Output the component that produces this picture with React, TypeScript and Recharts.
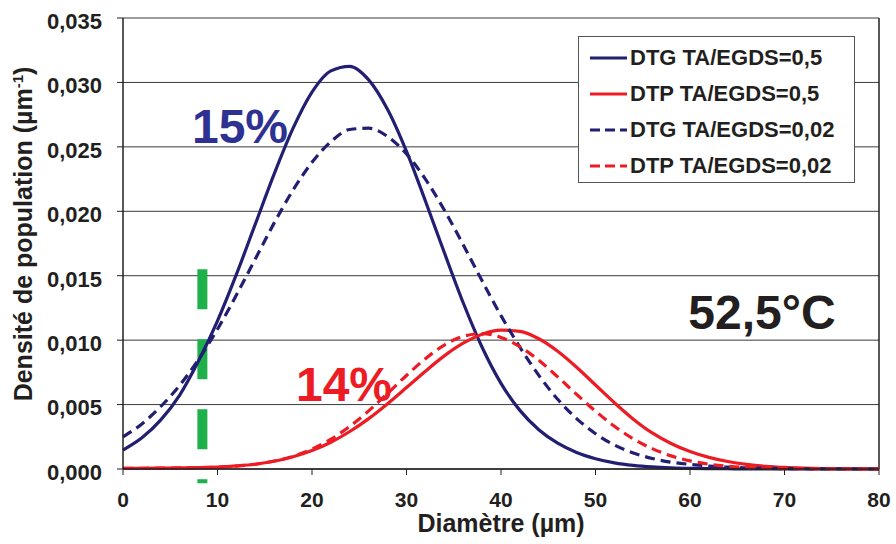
import { LineChart, Line, XAxis, YAxis, CartesianGrid, ReferenceLine, Legend, Customized } from 'recharts';

const FONT = "'Liberation Sans', Arial, sans-serif";
const INK = '#231F20';
const NAVY = '#221F72';
const RED = '#ED1C24';
const GREEN = '#1DB04B';

// diamètre (µm)
const diam = [
  0, 2, 4, 6, 8, 10, 12, 14, 16, 18, 20, 22, 24, 26, 28, 30, 32, 34, 36, 38, 40,
  42, 44, 46, 48, 50, 52, 54, 56, 58, 60, 62, 64, 66, 68, 70, 72, 74, 76, 78, 80,
];

const dtg05 = [
  0.00147, 0.00242, 0.00381, 0.00574, 0.0084, 0.0115, 0.0151, 0.019, 0.0229, 0.02645, 0.02925,
  0.0309, 0.03125, 0.0302, 0.0279, 0.02465, 0.0208, 0.0168, 0.0129, 0.00945, 0.00665,
  0.00455, 0.00305, 0.002, 0.00128, 0.0008, 0.00048, 0.00028, 0.00016, 0.00009, 0.00005,
  0.00003, 0.00002, 0.00001, 0.00001, 0, 0, 0, 0, 0, 0,
];

const dtp05 = [
  0.00005, 0.00006, 0.00007, 0.00008, 0.0001, 0.00015, 0.00024, 0.00037, 0.0006, 0.00095, 0.00143,
  0.00208, 0.00291, 0.00391, 0.00507, 0.00632, 0.00759, 0.00878, 0.00976, 0.01046, 0.01078,
  0.01068, 0.01011, 0.00914, 0.0079, 0.00652, 0.00514, 0.00387, 0.0028, 0.00198, 0.00135,
  0.0009, 0.00058, 0.00036, 0.00021, 0.00012, 0.00007, 0.00004, 0.00002, 0.00001, 0.00001,
];

const dtg002 = [
  0.0025, 0.0035, 0.00485, 0.0065, 0.0085, 0.01085, 0.0135, 0.0163, 0.0191, 0.02165, 0.0238,
  0.0254, 0.02635, 0.02645, 0.0258, 0.02445, 0.0225, 0.0201, 0.0174, 0.0146, 0.0119,
  0.00945, 0.00727, 0.00541, 0.00391, 0.00274, 0.00186, 0.00125, 0.00082, 0.00053, 0.00036,
  0.00023, 0.00014, 0.00009, 0.00005, 0.00003, 0.00002, 0.00001, 0.00001, 0, 0,
];

const dtp002 = [
  0.00005, 0.00006, 0.00007, 0.00008, 0.0001, 0.00014, 0.00022, 0.00037, 0.00062, 0.00098, 0.00154,
  0.00231, 0.00331, 0.00451, 0.00587, 0.00726, 0.00856, 0.00962, 0.0103, 0.0105, 0.01021,
  0.00949, 0.00843, 0.00715, 0.00579, 0.00449, 0.00332, 0.00234, 0.00158, 0.00102, 0.00063,
  0.00037, 0.00021, 0.00011, 0.00006, 0.00003, 0.00002, 0.00001, 0.00001, 0, 0,
];

const xTicks = [0, 10, 20, 30, 40, 50, 60, 70, 80];
const yTicks = [0, 0.005, 0.01, 0.015, 0.02, 0.025, 0.03, 0.035];

const series = [
  { key: 'dtg05', name: 'DTG TA/EGDS=0,5', color: NAVY, dash: undefined },
  { key: 'dtp05', name: 'DTP TA/EGDS=0,5', color: RED, dash: undefined },
  { key: 'dtg002', name: 'DTG TA/EGDS=0,02', color: NAVY, dash: '10 6' },
  { key: 'dtp002', name: 'DTP TA/EGDS=0,02', color: RED, dash: '10 6' },
];

const rows = diam.map((d, i) => ({
  d,
  dtg05: dtg05[i],
  dtp05: dtp05[i],
  dtg002: dtg002[i],
  dtp002: dtp002[i],
}));

const fmtY = (v: number) => v.toFixed(3).replace('.', ',');

function LegendBox() {
  return (
    <div
      style={{
        boxSizing: 'border-box',
        width: 277,
        height: 147,
        border: '1px solid #555',
        background: '#fff',
        padding: '3px 0 0 11px',
        fontFamily: FONT,
        fontWeight: 700,
        fontSize: 22,
        color: INK,
      }}
    >
      {series.map((s) => (
        <div key={s.key} style={{ display: 'flex', alignItems: 'center', height: 36, whiteSpace: 'nowrap' }}>
          <svg width={40} height={10} style={{ display: 'block' }}>
            <line x1={0} y1={5} x2={37} y2={5} stroke={s.color} strokeWidth={3} strokeDasharray={s.dash ? '10 5' : undefined} />
          </svg>
          <span>{s.name}</span>
        </div>
      ))}
    </div>
  );
}

function YTitle() {
  return (
    <text
      x={32}
      y={234}
      transform="rotate(-90, 32, 234)"
      textAnchor="middle"
      fontFamily={FONT}
      fontWeight={700}
      fontSize={25}
      fill={INK}
    >
      Densité de population (µm
      <tspan dy={-9} fontSize={15}>-1</tspan>
      <tspan dy={9}>)</tspan>
    </text>
  );
}

function Notes() {
  const base = { fontFamily: FONT, fontWeight: 700, fontSize: 48, textAnchor: 'middle' as const };
  return (
    <g>
      <text x={240} y={143} fill="#2E3192" {...base}>15%</text>
      <text x={344} y={401} fill={RED} {...base}>14%</text>
      <text x={762} y={329} fill={INK} {...base}>52,5°C</text>
    </g>
  );
}

export default function App() {
  return (
    <div style={{ position: 'absolute', left: 0, top: 0, width: 896, height: 544, background: '#fff' }}>
      <LineChart width={896} height={544} data={rows} margin={{ top: 18, right: 17, bottom: 0, left: 0 }}>
        <CartesianGrid vertical={false} stroke="#3a3a3a" strokeWidth={1} />
        <XAxis
          dataKey="d"
          type="number"
          domain={[0, 80]}
          ticks={xTicks}
          height={75}
          tickSize={6}
          tickMargin={17}
          axisLine={{ stroke: INK, strokeWidth: 1.5 }}
          tickLine={{ stroke: INK }}
          tick={{ fontSize: 21, fontWeight: 700, fill: INK, fontFamily: FONT }}
          label={{
            value: 'Diamètre (µm)',
            position: 'insideBottom',
            offset: 12,
            style: { fontSize: 25, fontWeight: 700, fill: INK, fontFamily: FONT },
          }}
        />
        <YAxis
          type="number"
          domain={[0, 0.035]}
          ticks={yTicks}
          width={123}
          tickSize={6}
          tickMargin={15}
          tickFormatter={fmtY}
          axisLine={{ stroke: INK, strokeWidth: 1.5 }}
          tickLine={{ stroke: INK }}
          tick={{ fontSize: 22, fontWeight: 700, fill: INK, fontFamily: FONT, dy: 3 }}
          label={<YTitle />}
        />
        <ReferenceLine x={80} stroke={INK} strokeWidth={1.5} />
        <ReferenceLine
          segment={[{ x: 8.4, y: 0.0155 }, { x: 8.4, y: -0.0011 }]}
          ifOverflow="visible"
          stroke={GREEN}
          strokeWidth={10}
          strokeDasharray="40 30"
        />
        {series.map((s) => (
          <Line
            key={s.key}
            dataKey={s.key}
            name={s.name}
            type="monotone"
            stroke={s.color}
            strokeWidth={3.2}
            strokeDasharray={s.dash}
            dot={false}
            activeDot={false}
            isAnimationActive={false}
          />
        ))}
        <Legend
          layout="vertical"
          align="center"
          verticalAlign="middle"
          wrapperStyle={{ left: 578, top: 36, width: 277, height: 147 }}
          content={() => <LegendBox />}
        />
        <Customized component={Notes} />
      </LineChart>
    </div>
  );
}
